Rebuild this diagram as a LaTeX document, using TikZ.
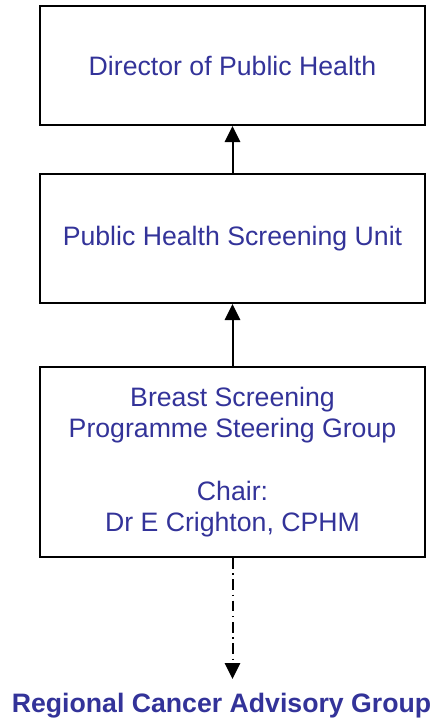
\documentclass[tikz,border=0pt]{standalone}
\usepackage{fontspec}
\setmainfont{Liberation Sans}
\usepackage{tikz}
\usetikzlibrary{arrows.meta}
\definecolor{orgblue}{RGB}{51,51,153}
\tikzset{
  unitbox/.style={draw,line width=1.5pt,minimum width=288.75pt,align=center,
    text=orgblue,font=\fontsize{20}{23.5}\selectfont,inner sep=0pt},
  upline/.style={line width=1.5pt,-{Triangle[length=12pt,width=11.5pt]}}
}
\begin{document}
\begin{tikzpicture}[x=0.75pt,y=-0.75pt]
    \useasboundingbox (0,0) rectangle (434,722);
    \node[unitbox,minimum height=89.25pt] (dph) at (232.5,65.5) {Director of Public Health};
    \node[unitbox,minimum height=96.75pt] (phsu) at (232.5,238.5) {Public Health Screening Unit};
    \node[unitbox,minimum height=142.5pt] (bspsg) at (232.5,462)
      {Breast Screening\\Programme Steering Group\\[23.5pt]Chair:\\Dr E Crighton, CPHM};
    \node[text=orgblue,font=\fontsize{20}{23.5}\selectfont\bfseries,anchor=base] (rcag) at (221.5,712)
      {Regional Cancer Advisory Group};
    \coordinate (rcagtop) at (232.5,679);
    \draw[upline] (phsu.north) -- (dph.south);
    \draw[upline] (bspsg.north) -- (phsu.south);
    \draw[line width=1.5pt,dash pattern=on 8pt off 3.5pt on 1pt off 3.5pt,
      -{Triangle[length=12pt,width=11.5pt]}] (bspsg.south) -- (rcagtop);
\end{tikzpicture}
\end{document}
